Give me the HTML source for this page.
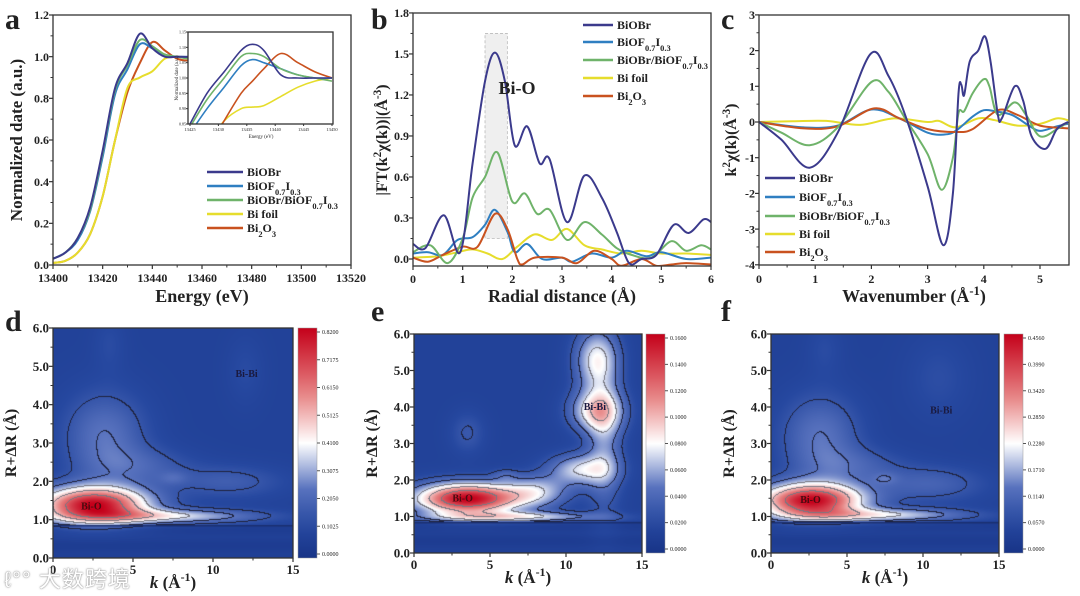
<!DOCTYPE html>
<html><head><meta charset="utf-8">
<style>
html,body{margin:0;padding:0;background:#fff;}
#wrap{position:relative;width:1080px;height:596px;overflow:hidden;font-family:"Liberation Serif",serif;}
svg{position:absolute;left:0;top:0;}
canvas{position:absolute;}
#wm{position:absolute;left:4px;top:562px;font-family:"Liberation Sans","Noto Sans CJK SC",sans-serif;font-size:22px;color:#fff;text-shadow:0 0 2px #999,0 0 1px #777;letter-spacing:1px;}
</style></head>
<body>
<div id="wrap">
<canvas id="hd" width="240" height="230" style="left:53px;top:328px"></canvas>
<canvas id="he" width="228" height="219" style="left:414px;top:334px"></canvas>
<canvas id="hf" width="228" height="219" style="left:771px;top:334px"></canvas>
<svg id="fig" width="1080" height="596" xmlns="http://www.w3.org/2000/svg"></svg>
<div id="wm">ℓ°° 大数跨境</div>
</div>
<script>
// ---------- data ----------
const seriesNames = ["BiOBr","BiOF0.7I0.3","BiOBr/BiOF0.7I0.3","Bi foil","Bi2O3"];
const seriesColors = ["#3b3a8c","#2f7fc1","#6fb36a","#e6dd2c","#c9521f"];
// panel a (XANES)
const aEnergy = [13400,13405,13410,13415,13420,13425,13430,13435,13440,13445,13450,13455,13460];
const aBiOBr = [0.03,0.06,0.13,0.28,0.55,0.85,0.97,1.11,1.04,1.00,1.00,1.00,1.01];
const aBiOF  = [0.03,0.06,0.12,0.26,0.52,0.82,0.94,1.06,1.04,1.01,1.00,1.00,1.01];
const aComp  = [0.03,0.06,0.13,0.27,0.54,0.84,0.96,1.08,1.05,1.01,1.00,0.99,0.99];
const aFoil  = [0.01,0.02,0.06,0.15,0.33,0.60,0.85,0.90,0.93,0.99,1.00,0.99,0.99];
const aBi2O3 = [0.01,0.02,0.06,0.15,0.33,0.60,0.83,0.97,1.07,1.03,0.99,0.98,0.98];
// inset
const iEnergy = [13425,13428,13431,13434,13436,13438,13441,13444,13447,13450];
const iBiOBr = [0.85,0.95,1.02,1.09,1.11,1.09,1.01,1.00,1.00,1.00];
const iBiOF  = [0.82,0.90,0.97,1.04,1.06,1.05,1.03,1.01,1.00,1.00];
const iComp  = [0.84,0.93,1.00,1.07,1.08,1.07,1.03,1.01,1.00,0.99];
const iFoil  = [0.70,0.78,0.86,0.90,0.905,0.91,0.94,0.97,0.99,1.00];
const iBi2O3 = [0.66,0.76,0.86,0.95,0.99,1.03,1.08,1.05,1.02,1.00];
// panel b (FT)
const bBiOBrR = [0,.25,.62,.95,1.2,1.45,1.65,1.85,2.05,2.3,2.55,2.75,3.1,3.45,3.8,4.1,4.35,4.6,4.9,5.25,5.55,5.85,6];
const bBiOBr  = [.11,.08,.32,.05,.7,1.3,1.51,1.3,.83,.97,.70,.73,.27,.61,.45,.2,-.03,.0,.03,.25,.19,.29,.27];
const bCompR  = [0,.35,.7,1.0,1.2,1.45,1.7,2.0,2.25,2.5,2.75,3.1,3.45,3.8,4.1,4.4,4.8,5.2,5.5,5.8,6];
const bComp   = [.05,.1,-.03,.15,.45,.6,.78,.42,.48,.33,.36,.14,.27,.18,.08,.03,.01,.13,.06,.1,.07];
const bBiOFR  = [0,.3,.6,.9,1.2,1.45,1.65,1.9,2.05,2.3,2.6,3.0,3.2,3.6,4.0,4.3,4.7,5.0,5.5,6];
const bBiOF   = [.04,.05,.03,.14,.16,.25,.36,.2,.05,.11,.0,.01,-.02,.04,.01,.06,.02,.05,.0,.01];
const bFoilR  = [0,.5,.9,1.2,1.5,1.8,2.1,2.45,2.8,3.1,3.45,3.8,4.2,4.6,5.0,5.5,6];
const bFoil   = [.01,.02,.05,.07,.04,.0,.09,.18,.14,.22,.1,.07,.04,.06,.04,.04,.03];
const bBi2O3R = [0,.3,.6,1.0,1.3,1.65,1.9,2.1,2.2,2.45,3.0,3.3,3.65,4.0,4.2,4.6,4.9,5.2,5.5,6];
const bBi2O3  = [.01,-.02,.03,.09,.09,.33,.22,.0,-.04,.01,.01,-.03,.06,.0,-.05,.0,-.05,-.04,-.03,-.04];
// panel c (k-space)
const cBiOBrK = [0,0.4,0.9,1.4,1.98,2.3,2.6,3.0,3.28,3.45,3.55,3.6,3.65,3.75,3.9,4.02,4.12,4.25,4.32,4.55,4.7,4.85,5.1,5.3,5.5];
const cBiOBr  = [0,-0.5,-1.28,-0.3,1.9,1.3,0.2,-1.8,-3.45,-2,0.8,1.05,0.75,1.7,2.0,2.4,1.7,0.2,0.1,1.0,0.6,-0.4,-0.75,-0.2,0];
const cCompK  = [0,0.4,0.9,1.4,2.0,2.3,2.6,3.0,3.25,3.45,3.55,3.65,3.8,4.0,4.1,4.25,4.55,4.75,5.0,5.3,5.5];
const cComp   = [0,-0.3,-0.65,-0.15,1.12,0.85,0.1,-0.9,-1.9,-1,0.25,0.3,0.8,1.2,1.0,0.2,0.55,0.2,-0.4,-0.2,0];
const cBiOFK  = [0,0.8,1.4,2.0,2.5,3.0,3.3,3.5,3.8,4.0,4.2,4.5,4.8,5.0,5.3,5.5];
const cBiOF   = [0,-0.15,-0.1,0.35,0.1,-0.3,-0.35,-0.25,0.15,0.33,0.3,0.2,-0.1,-0.25,-0.12,-0.05];
const cFoilK  = [0,0.6,1.2,1.8,2.4,3.0,3.2,3.5,3.9,4.2,4.6,5.0,5.3,5.5];
const cFoil   = [0,0.02,0.03,-0.08,0.1,0.0,0.03,-0.15,0.1,0.05,-0.1,-0.05,0.1,0.05];
const cBi2O3K = [0,0.8,1.4,2.05,2.5,3.0,3.5,3.8,4.25,4.6,5.0,5.5];
const cBi2O3  = [0,-0.18,-0.12,0.38,0.1,-0.2,-0.28,-0.2,0.33,0.2,-0.1,-0.18];
// wavelet heatmaps: gaussian components (k centre, R centre, amplitude fraction, sigma k, sigma R)
const dK=[2.5,7,3.2,11,12,3.5,7.5,5.5], dR=[1.4,1.1,3.2,2.0,4.9,5.6,2.1,2.4], dAmp=[0.88,0.35,0.2,0.12,0.05,0.05,0.08,0.12], dSk=[2.4,4,1.8,2.4,0.8,0.7,0.6,2.2], dSr=[0.33,0.13,0.8,0.3,0.6,0.5,0.12,0.35];
const eK=[3.5,6.5,12,12,11,12.5,3.5,8,6], eR=[1.5,1.0,3.9,5.3,2.3,3.0,3.3,1.7,2.15], eAmp=[0.9,0.35,0.42,0.38,0.35,0.22,0.1,0.28,0.1], eSk=[2.4,4,1.2,1.0,1.5,0.8,0.8,1.5,0.6], eSr=[0.3,0.1,0.4,0.6,0.3,1.3,0.4,0.3,0.12];
const fK=[2.6,7,3.2,10.5,11,3.5,7.5,5.5], fR=[1.45,1.05,3.2,1.9,4.8,5.6,2.05,2.4], fAmp=[0.88,0.35,0.2,0.14,0.06,0.05,0.08,0.12], fSk=[2.4,4,1.8,2.5,1.5,0.8,0.6,2.2], fSr=[0.33,0.13,0.8,0.35,0.8,0.5,0.12,0.35];
const dTicks=["0.8200","0.7175","0.6150","0.5125","0.4100","0.3075","0.2050","0.1025","0.0000"];
const eTicks=["0.1600","0.1400","0.1200","0.1000","0.0800","0.0600","0.0400","0.0200","0.0000"];
const fTicks=["0.4560","0.3990","0.3420","0.2850","0.2280","0.1710","0.1140","0.0570","0.0000"];

// ---------- helpers ----------
const NS="http://www.w3.org/2000/svg";
const svg=document.getElementById('fig');
function mk(tag,attrs,parent){const e=document.createElementNS(NS,tag);for(const k in attrs)e.setAttribute(k,attrs[k]);(parent||svg).appendChild(e);return e;}
function txt(x,y,s,size,anchor,extra){const t=mk('text',Object.assign({x:x,y:y,'font-size':size,'font-weight':'bold','text-anchor':anchor||'middle','font-family':'"Liberation Serif",serif',fill:'#222'},extra||{}));t.textContent=s;return t;}
function label(x,y,parts,size,anchor,extra){const t=mk('text',Object.assign({x:x,y:y,'font-size':size,'font-weight':'bold','text-anchor':anchor||'start','font-family':'"Liberation Serif",serif',fill:'#222'},extra||{}));
  parts.forEach(p=>{const s=mk('tspan',{},t);s.textContent=p[0];if(p[1]==='sub'){s.setAttribute('baseline-shift','sub');s.setAttribute('font-size',size*0.7);}if(p[1]==='sup'){s.setAttribute('baseline-shift','super');s.setAttribute('font-size',size*0.7);}if(p[1]==='i'){s.setAttribute('font-style','italic');}});return t;}
function smoothPath(xs,ys,fx,fy){const P=xs.map((x,i)=>[fx(x),fy(ys[i])]);let d='M'+P[0][0].toFixed(1)+','+P[0][1].toFixed(1);
  for(let i=0;i<P.length-1;i++){const p0=P[i-1]||P[i],p1=P[i],p2=P[i+1],p3=P[i+2]||p2;
   const c1=[p1[0]+(p2[0]-p0[0])/6,p1[1]+(p2[1]-p0[1])/6],c2=[p2[0]-(p3[0]-p1[0])/6,p2[1]-(p3[1]-p1[1])/6];
   d+=' C'+c1[0].toFixed(1)+','+c1[1].toFixed(1)+' '+c2[0].toFixed(1)+','+c2[1].toFixed(1)+' '+p2[0].toFixed(1)+','+p2[1].toFixed(1);}return d;}
function series(xs,ys,fx,fy,color,w,clip){const p=mk('path',{d:smoothPath(xs,ys,fx,fy),fill:'none',stroke:color,'stroke-width':w,'stroke-linejoin':'round'});if(clip)p.setAttribute('clip-path','url(#'+clip+')');return p;}
function clipRect(id,x0,y0,x1,y1){let defs=svg.querySelector('defs')||mk('defs',{});const c=mk('clipPath',{id:id},defs);mk('rect',{x:x0,y:y0,width:x1-x0,height:y1-y0},c);}
function frame(x0,y0,x1,y1){const r=mk('rect',{x:x0,y:y0,width:x1-x0,height:y1-y0,fill:'none',stroke:'#333','stroke-width':1.3});return r;}
function xTicks(vals,fx,yb,labY,size,fmt,minor){vals.forEach(v=>{mk('line',{x1:fx(v),x2:fx(v),y1:yb,y2:yb+4,stroke:'#333','stroke-width':1.2});txt(fx(v),labY,fmt?fmt(v):String(v),size);});
  if(minor)minor.forEach(v=>mk('line',{x1:fx(v),x2:fx(v),y1:yb,y2:yb+2.5,stroke:'#333','stroke-width':1}));}
function yTicks(vals,fy,xl,labX,size,fmt,minor){vals.forEach(v=>{mk('line',{x1:xl-4,x2:xl,y1:fy(v),y2:fy(v),stroke:'#333','stroke-width':1.2});txt(labX,fy(v)+size*0.35,fmt?fmt(v):String(v),size,'end');});
  if(minor)minor.forEach(v=>mk('line',{x1:xl-2.5,x2:xl,y1:fy(v),y2:fy(v),stroke:'#333','stroke-width':1}));}
function legend(x,ys,len,size){const labels=[[['BiOBr']],[['BiOF'],['0.7','sub'],['I'],['0.3','sub']],[['BiOBr/BiOF'],['0.7','sub'],['I'],['0.3','sub']],[['Bi foil']],[['Bi'],['2','sub'],['O'],['3','sub']]];
  labels.forEach((l,i)=>{const ln=mk('line',{x1:x,x2:x+len,y1:ys[i],y2:ys[i],stroke:seriesColors[i],'stroke-width':2.5});
   const t=label(x+len+4,ys[i]+size*0.35,l,size);});}

// ---------- panel a ----------
const xa=v=>53+(v-13400)/120*298, ya=v=>265-v/1.2*250;
clipRect('ca',53,15,351,265);
const aData=[aBiOBr,aBiOF,aComp,aFoil,aBi2O3];
[4,3,1,2,0].forEach(i=>{const p=series(aEnergy,aData[i],xa,ya,seriesColors[i],2,'ca');});
const fa=frame(53,15,351,265);
xTicks([13400,13420,13440,13460,13480,13500,13520],xa,265,282,12,null,[13410,13430,13450,13470,13490,13510]);
yTicks([0,0.2,0.4,0.6,0.8,1.0,1.2],ya,53,49,12,v=>v.toFixed(1),[0.1,0.3,0.5,0.7,0.9,1.1]);
let t=txt(202,302,'Energy (eV)',18);
t=txt(0,0,'Normalized date (a.u.)',17,'middle',{transform:'translate(22,140) rotate(-90)'});
t=txt(5,29,'a',30,'start');
// inset
const xi=v=>190+(v-13425)/25*142, yi=v=>124-(v-0.85)/0.3*92;
clipRect('ci',188,32,333,124);
mk('rect',{x:188,y:32,width:145,height:92,fill:'#fff'});
const iData=[iBiOBr,iBiOF,iComp,iFoil,iBi2O3];
[3,4,1,2,0].forEach(i=>{const p=series(iEnergy,iData[i],xi,yi,seriesColors[i],1.6,'ci');});
const fi=frame(188,32,333,124);
[13425,13430,13435,13440,13445,13450].forEach(v=>{mk('line',{x1:xi(v),x2:xi(v),y1:124,y2:126,stroke:'#333'});txt(xi(v),131,String(v),4.5,'middle',{'font-weight':'normal'});});
[0.85,0.90,0.95,1.00,1.05,1.10,1.15].forEach(v=>{mk('line',{x1:186,x2:188,y1:yi(v),y2:yi(v),stroke:'#333'});txt(186,yi(v)+1.5,v.toFixed(2),4,'end',{'font-weight':'normal'});});
txt(261,138,'Energy (eV)',5,'middle',{'font-weight':'normal'});
txt(0,0,'Normalized date (a.u.)',5,'middle',{'font-weight':'normal',transform:'translate(178,78) rotate(-90)'});
legend(207,[172,186,200,214,228],36,12);

// ---------- panel b ----------
const xb=v=>413+v/6*298, yb=v=>259-v*136.7;
clipRect('cb',413,13,711,266);
const sr=mk('rect',{x:xb(1.45),y:yb(1.65),width:xb(1.9)-xb(1.45),height:yb(0.15)-yb(1.65),fill:'#efefef',stroke:'#bbb','stroke-dasharray':'3,2','stroke-width':0.8});

const bX=[bBiOBrR,bBiOFR,bCompR,bFoilR,bBi2O3R], bY=[bBiOBr,bBiOF,bComp,bFoil,bBi2O3];
[3,1,4,2,0].forEach(i=>{const p=series(bX[i],bY[i],xb,yb,seriesColors[i],2,'cb');});
const fb=frame(413,13,711,266);
xTicks([0,1,2,3,4,5,6],xb,266,283,12,null,[0.5,1.5,2.5,3.5,4.5,5.5]);
yTicks([0,0.3,0.6,0.9,1.2,1.5,1.8],yb,413,409,12,v=>v.toFixed(1),[0.15,0.45,0.75,1.05,1.35,1.65]);
t=txt(562,302,'Radial distance (Å)',18);
t=label(0,0,[['|FT(k'],['2','sup'],['χ(k))|(Å'],['-3','sup'],[')']],16,'middle',{transform:'translate(387,140) rotate(-90)'});
t=txt(517,94,'Bi-O',18);
t=txt(371,29,'b',30,'start');
legend(583,[25,42,60,78,96],30,12);

// ---------- panel c ----------
const xc=v=>759+v/5*281, yc=v=>122-v*35.7;
clipRect('cc',759,15,1069,265);
const cX=[cBiOBrK,cBiOFK,cCompK,cFoilK,cBi2O3K], cY=[cBiOBr,cBiOF,cComp,cFoil,cBi2O3];
[3,1,4,2,0].forEach(i=>{const p=series(cX[i],cY[i],xc,yc,seriesColors[i],2,'cc');});
const fc=frame(759,15,1069,265);
xTicks([0,1,2,3,4,5],xc,265,283,12,null,[0.5,1.5,2.5,3.5,4.5]);
yTicks([-4,-3,-2,-1,0,1,2,3],yc,759,755,12,null,[-3.5,-2.5,-1.5,-0.5,0.5,1.5,2.5]);
t=label(914,302,[['Wavenumber (Å'],['-1','sup'],[')']],18,'middle');
t=label(0,0,[['k'],['2','sup'],['χ(k)(Å'],['-3','sup'],[')']],16,'middle',{transform:'translate(736,140) rotate(-90)'});
t=txt(721,29,'c',30,'start');
legend(765,[178,197,216,234,252],30,12);

// ---------- heatmaps ----------
const cmapStops=[[0,[24,52,135]],[0.14,[38,72,160]],[0.3,[88,114,190]],[0.5,[255,255,255]],[0.72,[230,128,128]],[1,[196,0,26]]];
function cmap(t){t=Math.max(0,Math.min(1,t));for(let i=0;i<cmapStops.length-1;i++){const a=cmapStops[i],b=cmapStops[i+1];if(t<=b[0]){const f=(t-a[0])/(b[0]-a[0]);return a[1].map((c,j)=>Math.round(c+(b[1][j]-c)*f));}}return cmapStops[cmapStops.length-1][1];}
const levels=[0.19,0.3,0.45,0.62,0.8];
function field(K,R,A,SK,SR,k,r){let v=r>0.88?0.1:0.07;if(r<0.88)v+=0.012*Math.sin(r*14);for(let i=0;i<K.length;i++){const dk=(k-K[i])/SK[i],dr=(r-R[i])/SR[i];v+=A[i]*Math.exp(-0.5*(dk*dk+dr*dr));}return v;}
function heat(id,K,R,A,SK,SR){const c=document.getElementById(id),ctx=c.getContext('2d'),W=c.width,H=c.height;const img=ctx.createImageData(W,H);const vals=new Float32Array(W*H);
  for(let y=0;y<H;y++)for(let x=0;x<W;x++){vals[y*W+x]=field(K,R,A,SK,SR,x/W*15,(1-y/H)*6);}
  const lvl=v=>{let n=0;for(const L of levels)if(v>L)n++;return n;};
  for(let y=0;y<H;y++)for(let x=0;x<W;x++){const v=vals[y*W+x];let col=cmap(v);const l=lvl(v);
    if((x<W-1&&lvl(vals[y*W+x+1])!==l)||(y<H-1&&lvl(vals[(y+1)*W+x])!==l)){col=v>0.35?[120,120,130]:[30,34,60];}
    const o=(y*W+x)*4;img.data[o]=col[0];img.data[o+1]=col[1];img.data[o+2]=col[2];img.data[o+3]=255;}
  ctx.putImageData(img,0,0);
  const ry=Math.round((1-0.86/6)*H);ctx.fillStyle='#1a2f70';ctx.fillRect(0,ry,W,1.5);}
heat('hd',dK,dR,dAmp,dSk,dSr);heat('he',eK,eR,eAmp,eSk,eSr);heat('hf',fK,fR,fAmp,fSk,fSr);

function wtPanel(letter,lx,ly,x0,x1,y0,y1,cbx,ticks,biBi,biO,gid){
  const fx=v=>x0+v/15*(x1-x0), fy=v=>y1-v/6*(y1-y0);
  const fr=frame(x0,y0,x1,y1);
  xTicks([0,5,10,15],fx,y1,y1+16,13,null,[2.5,7.5,12.5]);
  yTicks([0,1,2,3,4,5,6],fy,x0,x0-4,13,v=>v.toFixed(1),[0.5,1.5,2.5,3.5,4.5,5.5]);
  let tt=label((x0+x1)/2,y1+30,[['k','i'],[' (Å'],['-1','sup'],[')']],17,'middle');
  tt=txt(0,0,'R+ΔR (Å)',16,'middle',{transform:'translate('+(x0-37)+','+((y0+y1)/2)+') rotate(-90)'});
  tt=txt(lx,ly,letter,30,'start');
  tt=txt(fx(biO[0]),fy(biO[1])+3,'Bi-O',10,'middle',{fill:'#4a0a10'});
  tt=txt(fx(biBi[0]),fy(biBi[1])+3,'Bi-Bi',10,'middle',{fill:'#1a1a40'});
  let defs=svg.querySelector('defs');const g=mk('linearGradient',{id:gid,x1:0,y1:1,x2:0,y2:0},defs);
  for(let i=0;i<=10;i++){const c=cmap(i/10);mk('stop',{offset:i/10,'stop-color':'rgb('+c.join(',')+')'},g);}
  const cb=mk('rect',{x:cbx,y:y0,width:19,height:y1-y0,fill:'url(#'+gid+')',stroke:'#999','stroke-width':0.5});
  ticks.forEach((s,i)=>{const yy=y0+4+i*(y1-y0-8)/(ticks.length-1);mk('line',{x1:cbx+19,x2:cbx+22,y1:yy,y2:yy,stroke:'#555'});const tl=txt(cbx+24,yy+2,s,6,'start',{'font-weight':'normal'});});
}
wtPanel('d',5,331,53,293,328,558,298,dTicks,[12.1,4.8],[2.4,1.35],'gd');
wtPanel('e',371,321,414,642,334,553,646,eTicks,[11.9,4.0],[3.2,1.5],'ge');
wtPanel('f',721,321,771,999,334,553,1004,fTicks,[11.2,3.9],[2.6,1.45],'gf');
</script>
</body></html>
